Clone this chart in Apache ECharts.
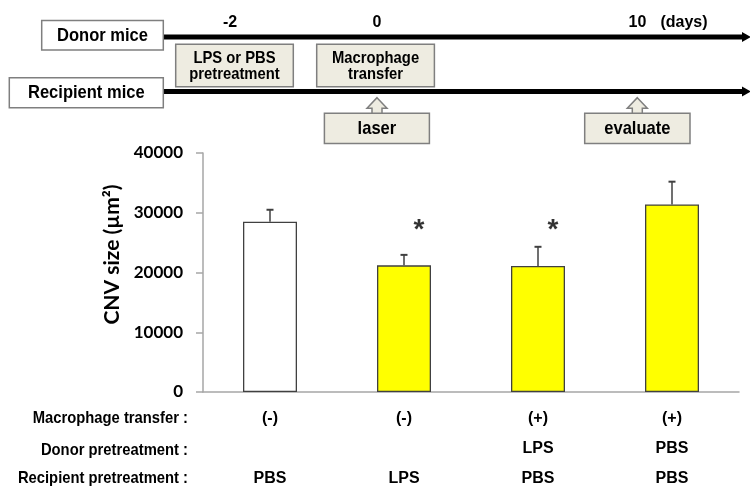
<!DOCTYPE html>
<html>
<head>
<meta charset="utf-8">
<script src="https://cdn.jsdelivr.net/npm/echarts@6/dist/echarts.min.js"></script>
<style>
html,body{margin:0;padding:0;background:#fff;}
#chart{width:750px;height:487px;}
</style>
</head>
<body>
<div id="chart"></div>
<script>
// ---- data ----
var categories = ['G1', 'G2', 'G3', 'G4'];
var cnvMean = [28500, 21200, 21100, 31400];
var cnvErr = [2000, 1750, 3200, 3800];
var sigMarks = ['', '*', '*', ''];
var sigLevel = 27100;
var macrophageTransfer = ['(-)', '(-)', '(+)', '(+)'];
var donorPretreatment = ['', '', 'LPS', 'PBS'];
var recipientPretreatment = ['PBS', 'LPS', 'PBS', 'PBS'];
var rowHeaders = ['Macrophage transfer :', 'Donor pretreatment :', 'Recipient pretreatment :'];
var yTicks = { min: 0, max: 40000, interval: 10000 };

// ---- styling ----
var NARROW = '"Liberation Sans Narrow", "Liberation Sans", Arial, sans-serif';
var CAL = 'Lato, "Open Sans", sans-serif';
var AXIS_COLOR = '#a6a6a6';
var BOX_FILL = '#eeece1';
var BOX_STROKE = '#7f7f7f';
var SQUEEZE = 0.87;

var chart = echarts.init(document.getElementById('chart'), null, { renderer: 'canvas' });

function boxText(x, y, w, h, text, fill, fontSize) {
  return {
    type: 'group',
    children: [
      { type: 'rect', shape: { x: x, y: y, width: w, height: h },
        style: { fill: fill, stroke: BOX_STROKE, lineWidth: 1.5 }, z: 10 },
      { type: 'text', x: x + w / 2, y: y + h / 2 + 0.5, scaleX: SQUEEZE,
        style: { text: text, fill: '#000', font: 'bold ' + fontSize + 'px ' + NARROW,
          align: 'center', verticalAlign: 'middle', lineHeight: 16 }, z: 11 }
    ]
  };
}
function upArrow(cx) {
  var tip = 97.7, base = 108.3, bottom = 113.3;
  return { type: 'polygon', z: 10,
    shape: { points: [[cx, tip], [cx + 10, base], [cx + 5, base], [cx + 5, bottom],
      [cx - 5, bottom], [cx - 5, base], [cx - 10, base]] },
    style: { fill: BOX_FILL, stroke: BOX_STROKE, lineWidth: 1.5 } };
}
function timeLine(y) {
  return { type: 'group', children: [
    { type: 'line', shape: { x1: 163, y1: y, x2: 744, y2: y },
      style: { stroke: '#000', lineWidth: 5 }, z: 5 },
    { type: 'polygon', shape: { points: [[742, y - 5], [751, y], [742, y + 5]] },
      style: { fill: '#000' }, z: 5 }
  ] };
}
function plainText(x, y, text, size, align, squeeze) {
  return { type: 'text', x: x, y: y, z: 11, scaleX: squeeze || 1,
    style: { text: text, fill: '#000', font: 'bold ' + size + 'px ' + NARROW,
      align: align || 'center', verticalAlign: 'middle' } };
}

var graphics = [
  timeLine(37),
  timeLine(91.5),
  boxText(41.7, 20.5, 121.6, 29.5, 'Donor mice', '#fff', 19),
  boxText(9.3, 77.7, 154, 30, 'Recipient mice', '#fff', 19),
  plainText(230, 23, '-2', 16),
  plainText(377, 23, '0', 16),
  plainText(637.5, 22.5, '10', 16),
  plainText(684, 22.5, '(days)', 16),
  boxText(175.7, 44.3, 117.6, 42.4, 'LPS or PBS\npretreatment', BOX_FILL, 17),
  boxText(316.7, 44.3, 117.7, 42.4, 'Macrophage\ntransfer', BOX_FILL, 17),
  boxText(324.4, 113.3, 105, 30.3, 'laser', BOX_FILL, 19),
  boxText(584.7, 113.3, 105.3, 30.3, 'evaluate', BOX_FILL, 19),
  upArrow(377),
  upArrow(637.3),
  plainText(188, 418.5, rowHeaders[0], 17, 'right', SQUEEZE),
  plainText(188, 450, rowHeaders[1], 17, 'right', SQUEEZE),
  plainText(188, 478.5, rowHeaders[2], 17, 'right', SQUEEZE)
];

var option = {
  animation: false,
  backgroundColor: '#fff',
  grid: { left: 203, right: 11, top: 153, bottom: 95, containLabel: false, outerBoundsMode: 'none' },
  xAxis: {
    type: 'category',
    data: categories,
    axisLine: { lineStyle: { color: AXIS_COLOR, width: 1.5 } },
    axisTick: { show: false },
    axisLabel: {
      interval: 0,
      margin: 12,
      color: '#000',
      fontFamily: NARROW,
      fontWeight: 'bold',
      fontSize: 16,
      lineHeight: 30,
      formatter: function (v, i) {
        return [macrophageTransfer[i], donorPretreatment[i] || ' ', recipientPretreatment[i]].join('\n');
      }
    }
  },
  yAxis: {
    type: 'value',
    min: yTicks.min, max: yTicks.max, interval: yTicks.interval,
    name: 'CNV size (µm²)',
    nameLocation: 'middle',
    nameGap: 78,
    nameTextStyle: { color: '#000', fontFamily: CAL, fontWeight: 'bold', fontSize: 21, padding: [0, 0, 0, 36] },
    axisLine: { show: true, lineStyle: { color: AXIS_COLOR, width: 1.5 } },
    axisTick: { show: true, length: 7, lineStyle: { color: AXIS_COLOR, width: 1.5 } },
    splitLine: { show: false },
    axisLabel: {
      color: '#000', fontFamily: CAL, fontWeight: 'bold', fontSize: 17, margin: 20,
      formatter: function (v) { return String(v); }
    }
  },
  series: [
    {
      type: 'bar',
      data: cnvMean,
      barWidth: 54,
      z: 2,
      itemStyle: {
        borderColor: '#404040',
        borderWidth: 1.3,
        color: function (p) { return p.dataIndex === 0 ? '#ffffff' : '#ffff00'; }
      }
    },
    {
      type: 'custom',
      z: 3,
      data: cnvMean.map(function (m, i) { return [i, m, m + cnvErr[i]]; }),
      renderItem: function (params, api) {
        var p0 = api.coord([api.value(0), api.value(1)]);
        var p1 = api.coord([api.value(0), api.value(2)]);
        return { type: 'group', children: [
          { type: 'line', shape: { x1: p0[0], y1: p0[1], x2: p1[0], y2: p1[1] },
            style: { stroke: '#404040', lineWidth: 1.5 } },
          { type: 'line', shape: { x1: p1[0] - 3.5, y1: p1[1], x2: p1[0] + 3.5, y2: p1[1] },
            style: { stroke: '#404040', lineWidth: 2 } }
        ] };
      }
    },
    {
      type: 'scatter',
      symbolSize: 0,
      z: 4,
      data: sigMarks.map(function (s, i) { return s ? [i, sigLevel] : [i, null]; }),
      label: {
        show: true,
        position: 'inside',
        offset: [15, 0],
        formatter: function (p) { return sigMarks[p.dataIndex]; },
        color: '#000',
        fontFamily: '"Liberation Sans", Arial, sans-serif',
        fontWeight: 'bold',
        fontSize: 28
      }
    }
  ],
  graphic: graphics
};
chart.setOption(option);
</script>
</body>
</html>
